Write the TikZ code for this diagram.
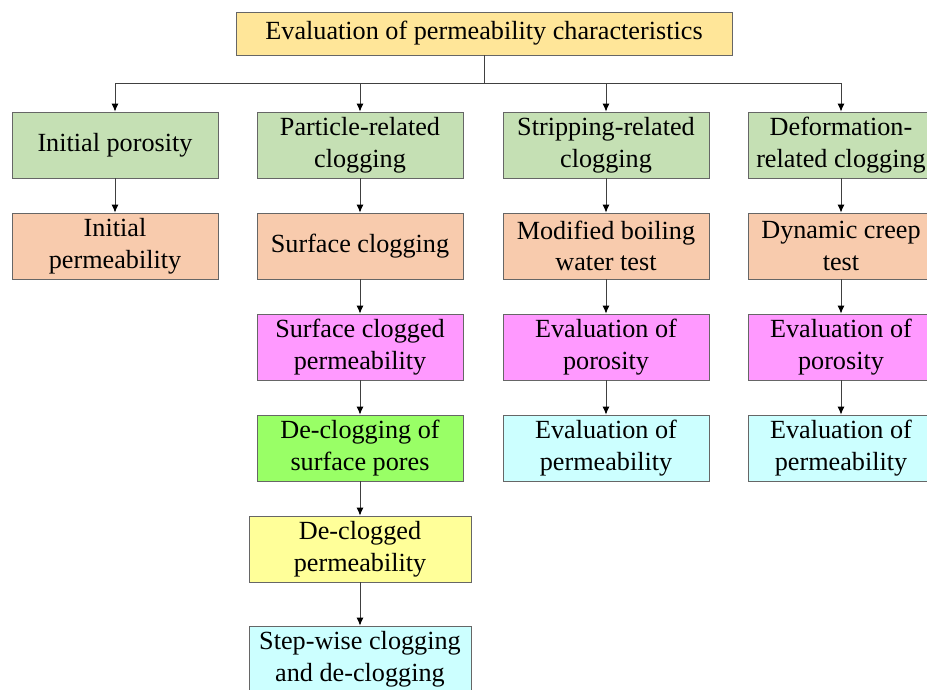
\documentclass[tikz,border=0pt]{standalone}
\usepackage{fontspec}
\setmainfont{Liberation Serif}
\usetikzlibrary{arrows.meta}
\definecolor{topfill}{HTML}{FFE699}
\definecolor{greenfill}{HTML}{C5E0B4}
\definecolor{peachfill}{HTML}{F8CBAD}
\definecolor{pinkfill}{HTML}{FF99FF}
\definecolor{limefill}{HTML}{99FF66}
\definecolor{yellowfill}{HTML}{FFFF99}
\definecolor{cyanfill}{HTML}{CCFFFF}
\begin{document}
\begin{tikzpicture}[x=1pt, y=-1pt, node distance=101pt,
    box/.style={draw=black!60, line width=0.8pt, align=center, minimum width=206pt,
      minimum height=66pt, inner sep=2pt, font=\fontsize{26.2}{31.5}\selectfont},
    link/.style={->, draw=black!75, line width=0.9pt},
    >={Latex[length=8pt,width=7pt,fill=black,color=black]}]
      \useasboundingbox[fill=white] (0,0) rectangle (927,690);

      % Nodes
      \node[box, fill=topfill, minimum width=496pt, minimum height=43pt] (evalperm) at (484,33.5) {Evaluation of permeability characteristics};

      \node[box, fill=greenfill] (initpor) at (115,145) {Initial porosity};
      \node[box, fill=greenfill] (partclog) at (360,145) {Particle-related\\clogging};
      \node[box, fill=greenfill] (stripclog) at (606,145) {Stripping-related\\clogging};
      \node[box, fill=greenfill, minimum width=186pt] (deformclog) at (841,145) {Deformation-\\related clogging};

      \node[box, below of=initpor, fill=peachfill] (initperm) {Initial\\permeability};
      \node[box, below of=partclog, fill=peachfill] (surfclog) {Surface clogging};
      \node[box, below of=stripclog, fill=peachfill] (boilwater) {Modified boiling\\water test};
      \node[box, below of=deformclog, fill=peachfill, minimum width=186pt] (creeptest) {Dynamic creep\\test};

      \node[box, below of=surfclog, fill=pinkfill] (surfperm) {Surface clogged\\permeability};
      \node[box, below of=boilwater, fill=pinkfill] (stripporo) {Evaluation of\\porosity};
      \node[box, below of=creeptest, fill=pinkfill, minimum width=186pt] (deformporo) {Evaluation of\\porosity};

      \node[box, below of=surfperm, fill=limefill] (declogpores) {De-clogging of\\surface pores};
      \node[box, below of=stripporo, fill=cyanfill] (stripperm) {Evaluation of\\permeability};
      \node[box, below of=deformporo, fill=cyanfill, minimum width=186pt] (deformperm) {Evaluation of\\permeability};

      \node[box, below of=declogpores, fill=yellowfill, minimum width=222pt] (declogperm) {De-clogged\\permeability};
      \node[box, below of=declogperm, yshift=-9pt, fill=cyanfill, minimum width=222pt] (stepwise) {Step-wise clogging\\and de-clogging};

      % Connections
      \foreach \col in {initpor, partclog, stripclog, deformclog}
        \draw[link] (evalperm.south) -- ++(0,28) -| (\col.north);

      \draw[link] (initpor) -- (initperm);
      \draw[link] (partclog) -- (surfclog);
      \draw[link] (surfclog) -- (surfperm);
      \draw[link] (surfperm) -- (declogpores);
      \draw[link] (declogpores) -- (declogperm);
      \draw[link] (declogperm) -- (stepwise);
      \draw[link] (stripclog) -- (boilwater);
      \draw[link] (boilwater) -- (stripporo);
      \draw[link] (stripporo) -- (stripperm);
      \draw[link] (deformclog) -- (creeptest);
      \draw[link] (creeptest) -- (deformporo);
      \draw[link] (deformporo) -- (deformperm);
\end{tikzpicture}
\end{document}
